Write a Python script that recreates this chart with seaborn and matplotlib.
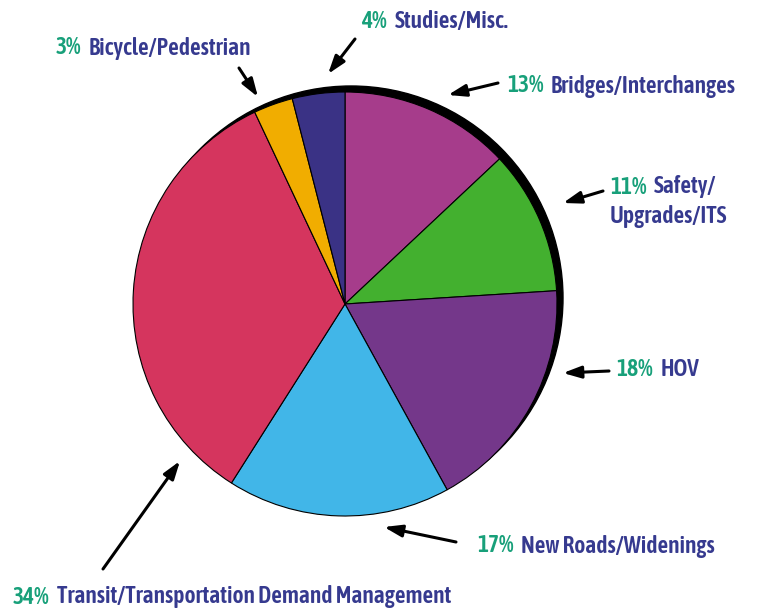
import matplotlib
matplotlib.use("Agg")
import matplotlib.pyplot as plt
import seaborn as sns
from matplotlib import font_manager as fm
from matplotlib.font_manager import FontProperties
from matplotlib.patches import Circle

categories = ["Bridges/Interchanges", "Safety/\nUpgrades/ITS", "HOV", "New Roads/Widenings",
              "Transit/Transportation Demand Management", "Bicycle/Pedestrian", "Studies/Misc."]
values = [13, 11, 18, 17, 34, 3, 4]
colors = ["#A63C8B", "#43B02F", "#74378A", "#41B6E8", "#D5355E", "#F1AD00", "#3A3285"]

sns.set_theme(style="white")
plt.rcParams["font.family"] = ["Liberation Sans", "DejaVu Sans"]

# look for a condensed face
def pick_font():
    cands = []
    for f in fm.fontManager.ttflist:
        nm = f.name + " " + f.fname
        cond = ("Narrow" in nm or "Condensed" in nm or "Cond" in f.fname
                or str(f.stretch) in ("condensed", "semi-condensed", "extra-condensed"))
        if cond and f.style == "normal":
            w = f.weight if isinstance(f.weight, int) else {"normal": 400, "bold": 700}.get(f.weight, 400)
            cands.append((abs(w - 600), f.fname))
    if cands:
        cands.sort()
        return FontProperties(fname=cands[0][1])
    return FontProperties(family="Liberation Sans", weight="bold")

fp = pick_font()

W, H = 761, 609
fig = plt.figure(figsize=(W / 100, H / 100), dpi=100)
ax = fig.add_axes([0, 0, 1, 1])

def Y(y):
    return H - y

cx, cy, r = 345, 304, 212
ax.add_patch(Circle((cx + 6, Y(cy - 6)), r, color="black", zorder=1))
ax.pie(values, colors=colors, startangle=90, counterclock=False, radius=r,
       center=(cx, Y(cy)), wedgeprops=dict(edgecolor="black", linewidth=0.8), frame=True)
ax.set_xlim(0, W)
ax.set_ylim(0, H)
ax.set_aspect("equal")
ax.axis("off")

green = "#18A07A"
navy = "#363A8F"

label_pos = [(507, 86), (610, 187), (616, 370), (477, 546), (13, 597), (56, 48), (361, 22)]
arrows = [((498, 83), (448, 95)), ((603, 191), (563, 203)), ((609, 371), (563, 373)),
          ((456, 542), (384, 527)), ((103, 569), (180, 461)), ((239, 68), (258, 97)),
          ((355, 39), (328, 74))]

fig.canvas.draw()
renderer = fig.canvas.get_renderer()

# size font so the longest label spans the reference width (438 px)
probe = ax.text(0, 0, "34%  Transit/Transportation Demand Management", fontproperties=fp, fontsize=16)
wpx = probe.get_window_extent(renderer).width
probe.remove()
fs = min(17, 16 * 438 / wpx)

for cat, v, (lx, ly), (a0, a1) in zip(categories, values, label_pos, arrows):
    lines = cat.split("\n")
    t = ax.text(lx, Y(ly), f"{v}%", color=green, fontproperties=fp, fontsize=fs, ha="left", va="center")
    bb = t.get_window_extent(renderer)
    x2 = bb.x1 + fs * 0.45
    ax.text(x2, Y(ly), lines[0], color=navy, fontproperties=fp, fontsize=fs, ha="left", va="center")
    for i, ln in enumerate(lines[1:], start=1):
        ax.text(lx, Y(ly + 30 * i), ln, color=navy, fontproperties=fp, fontsize=fs, ha="left", va="center")
    ax.annotate("", xy=(a1[0], Y(a1[1])), xytext=(a0[0], Y(a0[1])),
                arrowprops=dict(arrowstyle="-|>,head_length=0.9,head_width=0.3",
                                color="black", lw=2.2, shrinkA=0, shrinkB=0))

fig.savefig("out.png", dpi=100)
